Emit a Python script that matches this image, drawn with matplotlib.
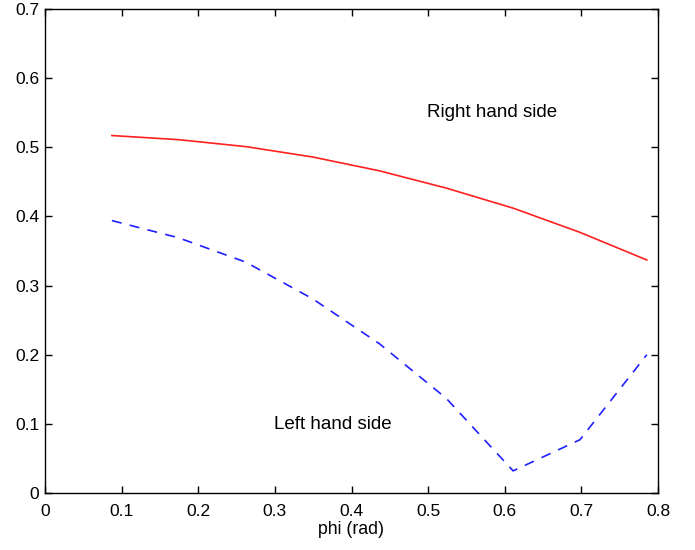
import numpy as np
import matplotlib
matplotlib.use("Agg")
import matplotlib.pyplot as plt

plt.rcParams['font.family'] = ['Liberation Sans', 'DejaVu Sans']

phi = [0.0873, 0.1745, 0.2618, 0.3491, 0.4363, 0.5236, 0.6109, 0.6981, 0.7854]
rhs = [0.517, 0.511, 0.501, 0.486, 0.466, 0.441, 0.412, 0.377, 0.337]
lhs = [0.394, 0.369, 0.334, 0.281, 0.216, 0.137, 0.032, 0.077, 0.200]

xticks = [0, 0.1, 0.2, 0.3, 0.4, 0.5, 0.6, 0.7, 0.8]
yticks = [0, 0.1, 0.2, 0.3, 0.4, 0.5, 0.6, 0.7]

fig = plt.figure(figsize=(6.95, 5.5), dpi=100)
ax = fig.add_axes([45/695, 1-493/550, (658-45)/695, (493-9)/550])
ax.plot(phi, rhs, color='#ff2020', lw=1.2, linestyle='-')
ax.plot(phi, lhs, color='#2020ff', lw=1.2, linestyle=(0, (6, 5)))
ax.set_xlim(0, 0.8)
ax.set_ylim(0, 0.7)
ax.set_xticks(xticks)
ax.set_yticks(yticks)
ax.set_xticklabels([f"{t:g}" for t in xticks])
ax.set_yticklabels([f"{t:g}" for t in yticks])
ax.tick_params(direction='in', top=True, right=True, length=5, labelsize=12.5, width=1)
ax.tick_params(axis='x', pad=8)
ax.tick_params(axis='y', pad=4)
for s in ax.spines.values():
    s.set_linewidth(1.0)
ax.set_xlabel('phi (rad)', fontsize=12.7, labelpad=1)
ax.text(0.584, 0.551, 'Right hand side', fontsize=13.5, ha='center', va='center')
ax.text(0.375, 0.099, 'Left hand side', fontsize=13.5, ha='center', va='center')
fig.savefig('out.png', dpi=100)
